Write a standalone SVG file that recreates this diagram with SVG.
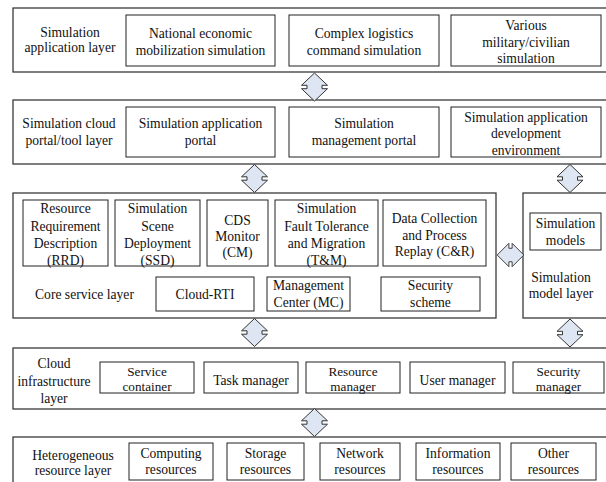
<svg xmlns="http://www.w3.org/2000/svg" width="606" height="482" viewBox="0 0 606 482">
<style>
text{font-family:'Liberation Serif','Liberation Sans',Arial,sans-serif;font-size:13.6px;fill:#111;text-anchor:middle}
.sm{font-size:13.2px}
.outer{fill:#fff;stroke:#3a3a3a;stroke-width:1.3}
.box{fill:#fff;stroke:#222;stroke-width:1}
.arr{fill:#dde6f2;stroke:#333;stroke-width:1;stroke-linejoin:miter}
</style>
<defs>
<path id="va" d="M0,-14 L-13,-1.7 L-7.5,-1.7 L-7.5,1.7 L-13,1.7 L0,14 L13,1.7 L7.5,1.7 L7.5,-1.7 L13,-1.7 Z"/>
</defs>
<rect width="606" height="482" fill="#fff"/>
<g id="layer-application">
<rect class="outer" x="13" y="8" width="602" height="64"/>
<text x="70" y="36.5">Simulation</text>
<text x="70" y="52">application layer</text>
</g>
<g id="national-economic">
<rect class="box" x="126" y="15" width="149" height="51"/>
<text x="200.5" y="38">National economic</text>
<text x="200.5" y="54.5">mobilization simulation</text>
</g>
<g id="complex-logistics">
<rect class="box" x="289" y="15" width="150" height="51"/>
<text x="364" y="38">Complex logistics</text>
<text x="364" y="54.5">command simulation</text>
</g>
<g id="various-simulation">
<rect class="box" x="451" y="15" width="150" height="51"/>
<text x="526" y="30">Various</text>
<text x="526" y="46.5">military/civilian</text>
<text x="526" y="63">simulation</text>
</g>

<g id="layer-portal">
<rect class="outer" x="13" y="100" width="602" height="64"/>
<text x="69" y="128">Simulation cloud</text>
<text x="69" y="144.5">portal/tool layer</text>
</g>
<g id="app-portal">
<rect class="box" x="126" y="107" width="149" height="50"/>
<text x="200.5" y="128">Simulation application</text>
<text x="200.5" y="144.5">portal</text>
</g>
<g id="mgmt-portal">
<rect class="box" x="289" y="107" width="150" height="50"/>
<text x="364" y="128">Simulation</text>
<text x="364" y="144.5">management portal</text>
</g>
<g id="dev-env">
<rect class="box" x="451" y="107" width="150" height="50"/>
<text x="526" y="121.5">Simulation application</text>
<text x="526" y="138">development</text>
<text x="526" y="154.5">environment</text>
</g>

<g id="layer-core">
<rect class="outer" x="13" y="193" width="483" height="125"/>
<text x="84.5" y="298.5">Core service layer</text>
</g>
<g id="rrd">
<rect class="box" x="23" y="200" width="85" height="66"/>
<text x="65.5" y="213">Resource</text>
<text x="65.5" y="230.5">Requirement</text>
<text x="65.5" y="248">Description</text>
<text x="65.5" y="264.5">(RRD)</text>
</g>
<g id="ssd">
<rect class="box" x="115" y="200" width="85" height="66"/>
<text x="157.5" y="213">Simulation</text>
<text x="157.5" y="230.5">Scene</text>
<text x="157.5" y="248">Deployment</text>
<text x="157.5" y="264.5">(SSD)</text>
</g>
<g id="cm">
<rect class="box" x="207" y="200" width="61" height="66"/>
<text x="237.5" y="225">CDS</text>
<text x="237.5" y="241">Monitor</text>
<text x="237.5" y="257">(CM)</text>
</g>
<g id="tm">
<rect class="box" x="275" y="200" width="103" height="66"/>
<text x="326.5" y="213">Simulation</text>
<text x="326.5" y="230.5">Fault Tolerance</text>
<text x="326.5" y="248">and Migration</text>
<text x="326.5" y="264.5">(T&amp;M)</text>
</g>
<g id="cr">
<rect class="box" x="383" y="200" width="103" height="66"/>
<text x="434.5" y="223">Data Collection</text>
<text x="434.5" y="239.5">and Process</text>
<text x="434.5" y="256">Replay (C&amp;R)</text>
</g>
<g id="cloud-rti">
<rect class="box" x="156" y="277" width="98" height="34"/>
<text x="205" y="298.5">Cloud-RTI</text>
</g>
<g id="mc">
<rect class="box" x="267" y="277" width="83" height="34"/>
<text x="308.5" y="290">Management</text>
<text x="308.5" y="306.5">Center (MC)</text>
</g>
<g id="security-scheme">
<rect class="box" x="381" y="277" width="99" height="34"/>
<text x="430.5" y="290">Security</text>
<text x="430.5" y="306.5">scheme</text>
</g>

<g id="layer-model">
<rect class="outer" x="523" y="193" width="92" height="125"/>
<text x="561" y="282">Simulation</text>
<text x="561" y="298">model layer</text>
</g>
<g id="sim-models">
<rect class="box" x="530" y="213" width="71" height="37"/>
<text x="565.5" y="228">Simulation</text>
<text x="565.5" y="245">models</text>
</g>

<g id="layer-infra">
<rect class="outer" x="13" y="348" width="602" height="61"/>
<text x="54" y="368">Cloud</text>
<text x="54" y="385.5">infrastructure</text>
<text x="54" y="403">layer</text>
</g>
<g id="service-container">
<rect class="box" x="100" y="362" width="94" height="31"/>
<text class="sm" x="147" y="376">Service</text>
<text class="sm" x="147" y="390.5">container</text>
</g>
<g id="task-manager">
<rect class="box" x="204" y="362" width="94" height="31"/>
<text x="251" y="385">Task manager</text>
</g>
<g id="resource-manager">
<rect class="box" x="306" y="362" width="94" height="31"/>
<text class="sm" x="353" y="376">Resource</text>
<text class="sm" x="353" y="390.5">manager</text>
</g>
<g id="user-manager">
<rect class="box" x="410" y="362" width="95" height="31"/>
<text x="457.5" y="385">User manager</text>
</g>
<g id="security-manager">
<rect class="box" x="513" y="362" width="91" height="31"/>
<text class="sm" x="558.5" y="376">Security</text>
<text class="sm" x="558.5" y="390.5">manager</text>
</g>

<g id="layer-resource">
<rect class="outer" x="13" y="437" width="602" height="60"/>
<text x="73" y="460">Heterogeneous</text>
<text x="73" y="475">resource layer</text>
</g>
<g id="computing">
<rect class="box" x="129" y="443" width="84" height="37"/>
<text x="171" y="458">Computing</text>
<text x="171" y="474">resources</text>
</g>
<g id="storage">
<rect class="box" x="227" y="443" width="77" height="37"/>
<text x="265.5" y="458">Storage</text>
<text x="265.5" y="474">resources</text>
</g>
<g id="network">
<rect class="box" x="320" y="443" width="80" height="37"/>
<text x="360" y="458">Network</text>
<text x="360" y="474">resources</text>
</g>
<g id="information">
<rect class="box" x="416" y="443" width="84" height="37"/>
<text x="458" y="458">Information</text>
<text x="458" y="474">resources</text>
</g>
<g id="other">
<rect class="box" x="511" y="443" width="85" height="37"/>
<text x="553.5" y="458">Other</text>
<text x="553.5" y="474">resources</text>
</g>
<g id="connectors">
<use href="#va" class="arr" transform="translate(314.5,87)"/>
<use href="#va" class="arr" transform="translate(254.5,178.5)"/>
<use href="#va" class="arr" transform="translate(570,178.5)"/>
<use href="#va" class="arr" transform="translate(254.5,332.5)"/>
<use href="#va" class="arr" transform="translate(570,333)"/>
<use href="#va" class="arr" transform="translate(314.5,422.5)"/>
<use href="#va" class="arr" transform="translate(510.5,255) rotate(90) scale(0.9,0.95)"/>
</g>
</svg>
